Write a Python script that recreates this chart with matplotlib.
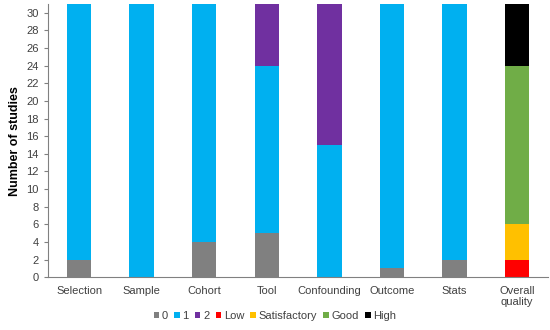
import matplotlib.pyplot as plt
import numpy as np

categories = ['Selection', 'Sample', 'Cohort', 'Tool', 'Confounding', 'Outcome', 'Stats', 'Overall\nquality']
s0 = [2, 0, 4, 5, 0, 1, 2, 0]
s1 = [29, 31, 27, 19, 15, 30, 29, 0]
s2 = [0, 0, 0, 7, 16, 0, 0, 0]
low = [0, 0, 0, 0, 0, 0, 0, 2]
satisfactory = [0, 0, 0, 0, 0, 0, 0, 4]
good = [0, 0, 0, 0, 0, 0, 0, 18]
high = [0, 0, 0, 0, 0, 0, 0, 7]

series = [('0', s0, '#808080'), ('1', s1, '#00B0F0'), ('2', s2, '#7030A0'),
          ('Low', low, '#FF0000'), ('Satisfactory', satisfactory, '#FFC000'),
          ('Good', good, '#70AD47'), ('High', high, '#000000')]

plt.rcParams['font.family'] = ['Liberation Sans', 'DejaVu Sans']

fig = plt.figure(figsize=(5.5, 3.3), dpi=100)
ax = fig.add_axes([0.087, 0.16, 0.91, 0.828])

x = np.arange(len(categories))
bottom = np.zeros(len(categories))
for name, vals, col in series:
    ax.bar(x, vals, 0.39, bottom=bottom, color=col, label=name)
    bottom += np.array(vals)

ax.set_xlim(-0.5, 7.5)
ax.set_ylim(0, 31)
ax.set_yticks(np.arange(0, 31, 2))
ax.set_xticks(x)
ax.set_xticklabels(categories, fontsize=8, color='#404040')
ax.tick_params(axis='y', labelsize=8, colors='#404040', length=3, color='#808080')
ax.tick_params(axis='x', length=0, pad=6)
ax.set_ylabel('Number of studies', fontsize=9, fontweight='bold')
for s in ['top', 'right']:
    ax.spines[s].set_visible(False)
ax.spines['left'].set_color('#808080')
ax.spines['bottom'].set_color('#808080')

h, l = ax.get_legend_handles_labels()
fig.legend(h, l, loc='center', bbox_to_anchor=(0.5, 0.043), ncol=7, frameon=False,
           fontsize=8, handlelength=0.5, handleheight=0.5, handletextpad=0.25,
           columnspacing=0.55, labelcolor='#404040')

fig.savefig('out.png', dpi=100)
